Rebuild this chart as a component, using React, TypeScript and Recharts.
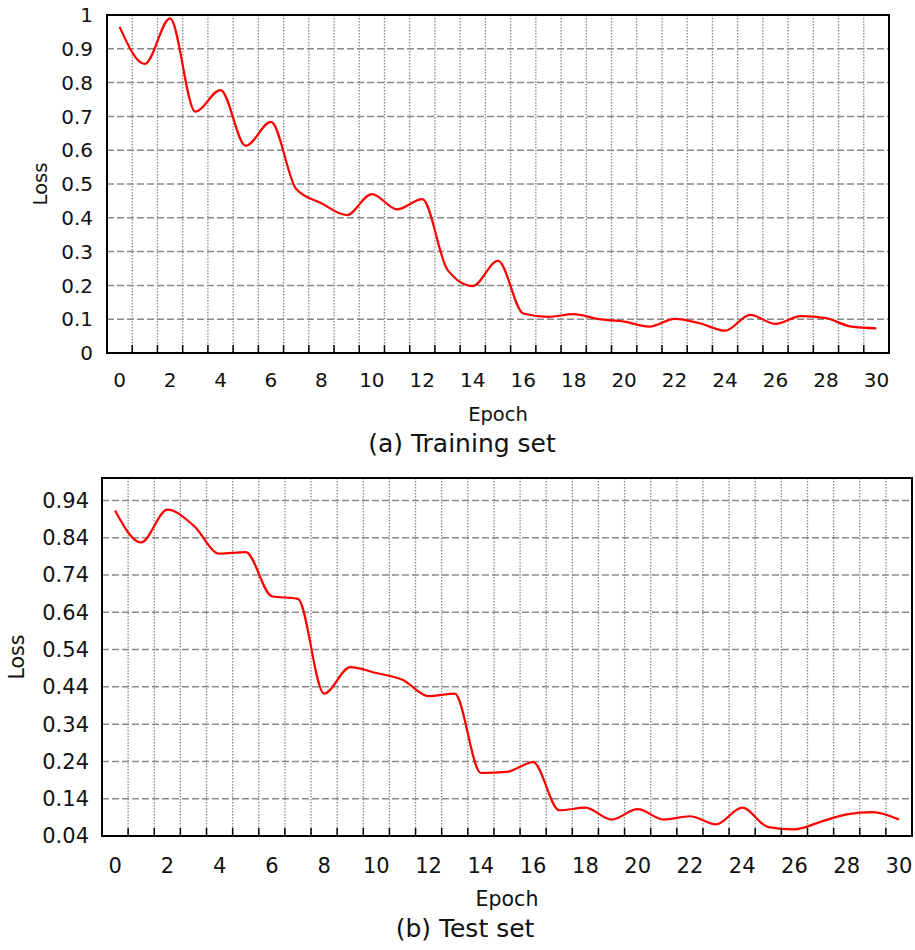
import React from "react";
import {
	LineChart,
	Line,
	XAxis,
	YAxis,
	CartesianGrid,
	ReferenceArea,
} from "recharts";

// Epochs 0..30, one point per epoch
const epochs = [
	0, 1, 2, 3, 4, 5, 6, 7, 8, 9, 10, 11, 12, 13, 14, 15, 16, 17, 18, 19, 20,
	21, 22, 23, 24, 25, 26, 27, 28, 29, 30,
];

// Loss values
const trainLoss = [
	0.965, 0.855, 0.99, 0.714, 0.778, 0.613, 0.684, 0.485, 0.443, 0.408, 0.47,
	0.425, 0.455, 0.246, 0.198, 0.273, 0.117, 0.107, 0.115, 0.1, 0.093, 0.078,
	0.101, 0.088, 0.066, 0.113, 0.086, 0.109, 0.103, 0.078, 0.073,
];
const testLoss = [
	0.913, 0.827, 0.915, 0.873, 0.797, 0.801, 0.683, 0.676, 0.422, 0.493, 0.477,
	0.459, 0.415, 0.422, 0.209, 0.212, 0.238, 0.109, 0.116, 0.084, 0.112, 0.084,
	0.093, 0.071, 0.116, 0.064, 0.058, 0.078, 0.098, 0.104, 0.084,
];

// Tick labels
const epochTicks = [0, 2, 4, 6, 8, 10, 12, 14, 16, 18, 20, 22, 24, 26, 28, 30];
const trainTicks = [0, 0.1, 0.2, 0.3, 0.4, 0.5, 0.6, 0.7, 0.8, 0.9, 1];
const testTicks = [0.04, 0.14, 0.24, 0.34, 0.44, 0.54, 0.64, 0.74, 0.84, 0.94];

const FONT = "'DejaVu Sans', Verdana, sans-serif";
const TEXT = "#111";
const GRID = "#8a8a8a";

// tick marks + dotted grid sit between epochs (band edges)
const bandEdges = epochs.slice(1).map((e) => e - 0.5);

// tick mark only, no label
const NoLabel = () => <g />;

interface PanelProps {
	values: number[];
	yTicks: number[];
	yDomain: [number, number];
	top: number;
	width: number;
	height: number;
	plotLeft: number;
	plotTop: number;
	rightMargin: number;
	xAxisHeight: number;
	fontSize: number;
	xTickMargin: number;
	yTickMargin: number;
	lossOffset: number;
	epochOffset: number;
}

function LossPanel(p: PanelProps) {
	const data = epochs.map((e, i) => ({ epoch: e, loss: p.values[i] }));
	const tickStyle = { fill: TEXT, fontSize: p.fontSize, fontFamily: FONT };

	return (
		<div style={{ position: "absolute", left: 0, top: p.top }}>
			<LineChart
				width={p.width}
				height={p.height}
				data={data}
				margin={{ top: p.plotTop, right: p.rightMargin, left: 0, bottom: 0 }}
			>
				<CartesianGrid
					xAxisId="e"
					yAxisId="v"
					vertical={false}
					stroke={GRID}
					strokeWidth={1.5}
					strokeDasharray="7 3"
				/>
				<CartesianGrid
					xAxisId="e"
					yAxisId="v"
					horizontal={false}
					verticalValues={bandEdges}
					stroke={GRID}
					strokeWidth={1.3}
					strokeDasharray="1.5 1.5"
				/>
				<XAxis
					xAxisId="em"
					dataKey="epoch"
					type="number"
					domain={[-0.5, 30.5]}
					ticks={bandEdges}
					interval={0}
					mirror
					tick={NoLabel}
					tickSize={8}
					tickLine={{ stroke: "#000", strokeWidth: 1.5 }}
					axisLine={false}
				/>
				<XAxis
					xAxisId="e"
					dataKey="epoch"
					type="number"
					domain={[-0.5, 30.5]}
					ticks={epochTicks}
					interval={0}
					height={p.xAxisHeight}
					tickLine={false}
					tickSize={0}
					tickMargin={p.xTickMargin}
					tick={tickStyle}
					axisLine={{ stroke: "#000", strokeWidth: 2 }}
					label={{
						value: "Epoch",
						position: "insideBottom",
						offset: p.epochOffset,
						fill: TEXT,
						fontSize: p.fontSize - 0.5,
						fontFamily: FONT,
					}}
				/>
				<YAxis
					yAxisId="vm"
					type="number"
					domain={p.yDomain}
					ticks={p.yTicks}
					interval={0}
					mirror
					tick={NoLabel}
					tickSize={9}
					tickLine={{ stroke: "#000", strokeWidth: 1.5 }}
					axisLine={false}
				/>
				<YAxis
					yAxisId="v"
					type="number"
					domain={p.yDomain}
					ticks={p.yTicks}
					interval={0}
					width={p.plotLeft}
					tickLine={false}
					tickSize={0}
					tickMargin={p.yTickMargin}
					tick={tickStyle}
					axisLine={{ stroke: "#000", strokeWidth: 2 }}
					label={{
						value: "Loss",
						angle: -90,
						position: "insideLeft",
						offset: p.lossOffset,
						fill: TEXT,
						fontSize: p.fontSize - 0.5,
						fontFamily: FONT,
						style: { textAnchor: "middle" },
					}}
				/>
				<ReferenceArea
					xAxisId="e"
					yAxisId="v"
					x1={-0.5}
					x2={30.5}
					y1={p.yDomain[0]}
					y2={p.yDomain[1]}
					fill="none"
					stroke="#000"
					strokeWidth={2}
					ifOverflow="visible"
				/>
				<Line
					xAxisId="e"
					yAxisId="v"
					dataKey="loss"
					type="monotone"
					stroke="#ff0000"
					strokeWidth={2.2}
					dot={false}
					activeDot={false}
					isAnimationActive={false}
				/>
			</LineChart>
		</div>
	);
}

export default function App() {
	return (
		<div
			style={{
				position: "absolute",
				left: 0,
				top: 0,
				width: 915,
				height: 950,
				background: "#fff",
				fontFamily: FONT,
			}}
		>
			<LossPanel
				values={trainLoss}
				yTicks={trainTicks}
				yDomain={[0, 1]}
				top={0}
				width={915}
				height={430}
				plotLeft={107}
				plotTop={15}
				rightMargin={26}
				xAxisHeight={77}
				fontSize={20}
				xTickMargin={20}
				yTickMargin={14}
				lossOffset={40}
				epochOffset={9}
			/>
			<LossPanel
				values={testLoss}
				yTicks={testTicks}
				yDomain={[0.04, 1]}
				top={460}
				width={915}
				height={460}
				plotLeft={102}
				plotTop={18}
				rightMargin={3}
				xAxisHeight={84}
				fontSize={21}
				xTickMargin={22}
				yTickMargin={13}
				lossOffset={17}
				epochOffset={14}
			/>
			<svg
				width={915}
				height={950}
				style={{ position: "absolute", left: 0, top: 0, pointerEvents: "none" }}
			>
				<text
					x={462}
					y={452}
					textAnchor="middle"
					fontSize={25}
					fontFamily={FONT}
					fill={TEXT}
				>
					(a) Training set
				</text>
				<text
					x={465}
					y={937}
					textAnchor="middle"
					fontSize={25}
					fontFamily={FONT}
					fill={TEXT}
				>
					(b) Test set
				</text>
			</svg>
		</div>
	);
}
